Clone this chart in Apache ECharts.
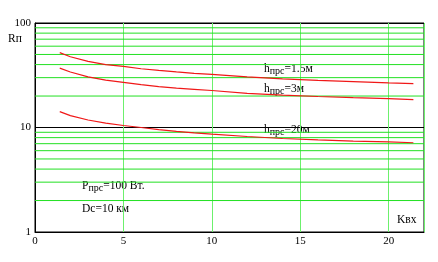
<!DOCTYPE html>
<html><head><meta charset="utf-8">
<script src="https://cdn.jsdelivr.net/npm/echarts@6/dist/echarts.min.js"></script>
<style>html,body{margin:0;padding:0;background:#fff}#c{width:438px;height:262px}</style>
</head><body><div id="c"></div>
<script>
const xKvh = [1.4, 2, 3, 4, 5, 6, 7, 8, 9, 10, 12, 14, 16, 18, 20, 21.4];
const r15 = [52, 47.5, 43, 40, 38.5, 36.5, 35.2, 34, 33, 32.2, 30.5, 29.2, 28.2, 27.5, 26.7, 26.3];
const r3  = [37, 34, 30.5, 28.4, 27, 25.7, 24.6, 23.8, 23.2, 22.6, 21.2, 20.4, 19.8, 19.3, 18.9, 18.5];
const r20 = [14.2, 13.0, 11.8, 11.0, 10.45, 10.0, 9.55, 9.2, 8.9, 8.65, 8.2, 7.85, 7.6, 7.4, 7.28, 7.15];
const minorY = [2, 3, 4, 5, 6, 7, 8, 9, 20, 30, 40, 50, 60, 70, 80, 90];
const xTicks = [0, 5, 10, 15, 20];
const xRange = [0, 22];

const F = 'Liberation Serif';
const GREEN = '#22e022';
const pair = (ys) => xKvh.map((x, i) => [x, ys[i]]);
const curve = (ys) => ({
  type: 'line', data: pair(ys), showSymbol: false, smooth: false,
  color: '#f01818',
  lineStyle: { color: '#f01818', width: 1.2 }, z: 5, silent: true
});
const gridSeries = minorY.map(v => ({
  type: 'line', data: xRange.map(x => [x, v]), showSymbol: false, silent: true,
  color: GREEN, lineStyle: { color: GREEN, width: 1 }, z: 1
}));
const rich = {
  a: { fontFamily: F, fontSize: 11.5, color: '#000' },
  s: { fontFamily: F, fontSize: 10, color: '#000', padding: [4, 0, 0, 0] }
};
const lbl = (txt, left, top) => ({
  type: 'text', left: left, top: top,
  style: { rich: rich, text: txt, fill: '#000' }
});

const chart = echarts.init(document.getElementById('c'));
chart.setOption({
  animation: false,
  grid: { left: 35, top: 23, width: 389, height: 209, show: true, borderColor: '#000', borderWidth: 1 },
  xAxis: {
    type: 'value', min: xRange[0], max: xRange[1], interval: 5,
    axisLine: { show: true, lineStyle: { color: '#000' } },
    axisTick: { show: false },
    axisLabel: { fontFamily: F, fontSize: 11, color: '#000', margin: 4,
      formatter: v => xTicks.includes(v) ? String(v) : '' },
    splitLine: { show: true, lineStyle: { color: '#6cf06c', width: 1 } }
  },
  yAxis: {
    type: 'log', logBase: 10, min: 1, max: 100,
    axisLine: { show: true, lineStyle: { color: '#000' } },
    axisTick: { show: false },
    axisLabel: { fontFamily: F, fontSize: 11, color: '#000', margin: 4 },
    splitLine: { show: true, lineStyle: { color: '#000', width: 1 } }
  },
  series: gridSeries.concat([curve(r15), curve(r3), curve(r20)]),
  graphic: [
    lbl('{a|h}{s|прс}{a|=1.5м}', 264, 63),
    lbl('{a|h}{s|прс}{a|=3м}', 264, 83),
    lbl('{a|h}{s|прс}{a|=20м}', 264, 124),
    lbl('{a|P}{s|прс}{a|=100 Вт.}', 82, 180),
    { type: 'text', left: 82, top: 203, style: { text: 'Dc=10 км', font: '11.5px "Liberation Serif"', fill: '#000' } },
    { type: 'text', left: 397, top: 214, style: { text: 'Kвх', font: '11.5px "Liberation Serif"', fill: '#000' } },
    { type: 'text', left: 8, top: 33, style: { text: 'Rп', font: '11.5px "Liberation Serif"', fill: '#000' } }
  ]
});
</script></body></html>
